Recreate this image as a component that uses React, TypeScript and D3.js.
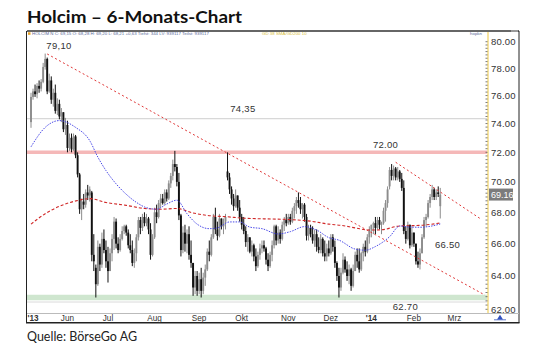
import React from 'react';
import * as d3 from 'd3';

const W = 540;
const H = 356;

// Daily OHLC (trading-day index 0 = first bar, early May 2013)
const opens = [74.1,75.9,76.3,76.1,76.7,76.5,77.0,78.1,78.7,76.3,77.1,75.7,76.2,74.9,75.4,74.5,74.8,73.6,73.9,72.3,73.0,72.2,73.1,71.8,70.5,68.2,68.7,68.5,69.3,69.1,69.3,65.3,64.5,63.5,65.8,64.7,66.3,65.6,64.9,64.3,65.4,66.3,67.4,66.0,65.6,66.3,66.8,67.1,66.7,65.9,65.6,64.8,65.4,66.4,67.5,67.0,67.7,67.3,67.6,66.9,65.3,66.4,68.0,67.7,68.6,68.9,68.6,69.3,68.9,69.9,70.4,71.2,71.0,70.0,67.8,65.6,66.7,66.0,66.6,65.3,64.8,63.3,64.0,63.1,63.8,63.1,63.9,64.4,65.5,65.3,66.4,67.7,66.9,66.5,67.6,67.1,67.4,70.7,70.3,69.5,68.9,68.4,69.1,68.3,67.7,67.2,66.8,66.1,66.4,65.5,65.9,65.2,64.6,65.3,65.7,65.9,65.7,65.0,64.6,65.3,65.9,67.1,66.2,66.7,66.3,67.2,67.5,67.3,67.7,67.4,68.1,68.4,68.8,68.6,68.2,68.5,67.7,66.5,67.0,66.6,66.2,66.6,65.8,65.6,66.3,65.4,65.2,65.7,65.4,66.4,65.8,64.8,64.0,63.3,64.2,65.0,64.4,64.0,64.4,63.4,64.3,65.3,64.9,64.4,65.4,65.8,65.5,66.4,66.9,67.2,67.3,67.0,67.5,67.2,67.3,68.1,68.6,69.7,70.8,70.4,70.9,70.3,70.7,70.2,69.6,66.8,66.3,67.2,65.9,66.7,66.0,64.9,64.7,65.4,66.4,67.5,67.7,68.6,69.0,69.5,69.0,69.3,68.4];
const highs = [76.2,76.5,76.8,76.9,77.1,77.2,78.4,79.1,78.8,77.6,77.4,76.5,76.8,75.8,75.7,75.1,74.8,74.4,74.2,73.3,73.3,73.3,73.2,72.0,70.6,68.9,69.2,69.5,69.8,69.7,69.4,66.6,64.7,66.2,66.0,66.7,66.9,66.2,65.8,65.7,66.6,67.7,67.6,66.4,66.6,67.1,67.2,67.2,66.9,66.6,66.2,65.7,66.6,67.7,67.7,67.9,68.0,67.9,67.7,67.3,66.6,68.3,68.5,68.8,69.2,69.2,69.5,69.5,70.1,70.6,71.5,72.1,71.2,70.6,67.9,67.1,67.2,66.9,67.1,66.2,64.8,64.3,64.3,64.2,64.5,64.2,64.7,65.7,66.2,66.6,67.9,68.3,67.4,67.9,67.6,67.6,67.9,72.0,70.6,69.7,69.2,69.5,69.1,68.8,67.9,67.7,67.1,66.6,66.4,66.2,66.0,65.7,65.5,66.0,66.2,66.2,65.8,65.4,65.5,66.2,67.2,67.2,67.1,66.9,67.4,67.7,67.9,67.9,67.9,68.3,68.6,69.0,69.3,69.0,68.6,68.6,67.9,67.2,67.2,67.1,66.9,66.9,66.4,66.6,66.4,66.2,66.0,66.2,66.6,66.6,66.2,64.9,64.5,64.5,65.4,65.2,64.9,64.7,64.5,64.7,65.5,65.7,65.7,65.5,66.0,66.2,66.6,67.1,67.2,67.4,67.7,67.7,67.7,67.4,68.3,68.8,69.7,71.0,71.2,71.1,71.0,71.0,70.8,70.6,70.1,67.1,67.4,67.2,67.1,66.7,66.0,65.5,65.7,66.6,67.7,67.9,68.8,69.2,69.8,69.6,69.5,69.7,69.6];
const lows = [73.7,75.7,75.9,75.8,76.2,76.3,76.9,77.9,76.1,76.2,75.4,75.2,74.7,74.6,74.3,74.1,73.4,73.2,72.0,72.1,72.0,72.1,71.6,70.3,67.9,67.5,68.2,68.3,68.8,68.7,64.9,64.3,62.7,63.4,64.3,64.5,65.4,64.5,63.6,64.3,64.9,65.6,65.7,65.4,65.5,66.2,66.6,66.5,65.7,65.4,64.6,64.5,64.9,66.2,66.6,66.8,67.1,67.1,66.6,65.0,65.2,66.3,67.3,67.6,68.3,68.5,68.5,68.7,68.8,69.6,70.1,70.7,69.7,67.5,65.2,65.4,65.5,65.4,65.0,64.5,62.8,62.9,62.8,62.9,62.7,62.9,63.4,64.3,64.9,65.2,66.3,66.6,66.2,66.4,66.9,66.6,66.9,70.1,69.2,68.5,68.1,68.3,68.1,67.4,66.9,66.6,65.8,65.5,65.4,65.2,64.9,64.3,64.5,65.0,65.4,65.5,64.7,64.3,64.5,64.9,65.7,65.9,66.0,66.0,66.2,66.8,67.1,67.2,67.2,67.3,67.6,67.9,68.3,67.9,67.6,67.4,66.2,66.2,66.4,66.0,65.8,65.5,65.4,65.4,65.2,64.9,64.9,65.2,65.3,65.5,64.5,63.7,62.7,63.1,64.1,64.2,63.7,63.5,63.1,63.3,64.3,64.5,64.2,64.3,64.9,65.2,65.4,66.0,66.4,66.6,66.6,66.9,66.9,66.6,67.2,67.4,68.3,69.5,70.1,70.1,70.1,70.1,70.0,69.4,66.6,66.0,66.2,65.7,65.8,65.8,64.7,64.5,64.4,65.4,66.3,67.1,67.6,68.3,68.8,68.8,68.8,69.0,67.6];
const closes = [75.9,76.3,76.1,76.7,76.5,77.0,78.1,78.7,76.3,77.1,75.7,76.2,74.9,75.4,74.5,74.8,73.6,73.9,72.3,73.0,72.2,73.1,71.8,70.5,68.2,68.7,68.5,69.3,69.1,69.5,65.3,64.9,63.5,65.8,64.7,66.3,65.6,64.9,64.3,65.4,66.3,67.4,66.0,65.6,66.3,66.8,67.1,66.7,65.9,65.6,64.8,65.4,66.4,67.5,67.0,67.7,67.3,67.6,66.9,65.3,66.4,68.0,67.7,68.6,68.9,68.6,69.3,68.9,69.9,70.4,71.2,71.0,70.0,67.8,65.6,66.7,66.0,66.6,65.3,64.8,63.3,64.0,63.1,63.8,63.1,63.9,64.4,65.5,65.3,66.4,67.7,66.9,66.5,67.6,67.1,67.4,67.7,70.3,69.5,68.9,68.4,69.1,68.3,67.7,67.2,66.8,66.1,66.4,65.5,65.9,65.2,64.6,65.3,65.7,65.9,65.7,65.0,64.6,65.3,65.9,67.1,66.2,66.7,66.3,67.2,67.5,67.3,67.7,67.4,68.1,68.4,68.8,68.6,68.2,68.5,67.7,66.5,67.0,66.6,66.2,66.6,65.8,65.6,66.3,65.4,65.2,65.7,65.4,66.4,65.8,64.8,64.0,63.3,64.2,65.0,64.4,64.0,64.4,63.4,64.3,65.3,64.9,64.4,65.4,65.8,65.5,66.4,66.9,67.2,67.3,67.0,67.5,67.2,67.3,68.1,68.6,69.5,70.8,70.4,70.9,70.3,70.7,70.2,69.6,66.8,66.3,67.2,65.9,66.7,66.0,64.9,64.7,65.4,66.4,67.5,67.7,68.6,69.0,69.5,69.0,69.3,69.2,69.16];

// Axis labels
const monthLabels = ["'13", 'Jun', 'Jul', 'Aug', 'Sep', 'Okt', 'Nov', 'Dez', "'14", 'Feb', 'Mrz'];
const monthIdx = [0, 18, 38, 61, 83, 104, 127, 148, 168, 189, 209];
const yTicks = [62, 64, 66, 68, 70, 72, 74, 76, 78, 80];

// Moving averages
const maShortIdx = [0, 7, 14, 22, 29, 33, 37, 42, 47, 52, 57, 62, 67, 72, 77, 82, 88, 92, 98, 103, 108, 114, 122, 128, 135, 141, 147, 152, 160, 165, 170, 177, 182, 187, 192, 197, 202];
const maShortVal = [72.38, 73.73, 74.21, 73.73, 72.8, 71.67, 70.76, 69.87, 69.18, 68.65, 68.3, 68.2, 68.54, 68.79, 67.91, 67.24, 66.95, 67.0, 67.38, 67.38, 67.05, 66.95, 66.61, 66.76, 67.08, 66.86, 66.38, 66.22, 65.66, 65.59, 65.82, 66.44, 67.12, 67.05, 67.04, 67.1, 67.25];
const maLongIdx = [0, 7, 14, 22, 29, 37, 47, 56, 64, 72, 80, 89, 96, 105, 115, 124, 131, 138, 147, 153, 160, 167, 173, 182, 192, 202];
const maLongVal = [67.24, 67.91, 68.39, 68.74, 68.89, 68.64, 68.45, 68.25, 68.2, 68.25, 67.96, 67.77, 67.72, 67.62, 67.58, 67.55, 67.51, 67.43, 67.24, 67.16, 67.0, 66.86, 66.88, 67.12, 67.16, 67.31];

// Trend lines
const trendMainIdx = [8, 224];
const trendMainVal = [79.07, 62.85];
const trendUpperIdx = [180, 222];
const trendUpperVal = [71.32, 67.57];

// Horizontal levels
const resistanceLevel = 72.0;
const markLevel = 74.35;
const supportLevel = 62.7;

// Annotations
const annoTexts = ['79,10', '74,35', '72.00', '66.50', '62.70'];
const annoIdx = [13.8, 104.6, 175, 205.6, 184.8];
const annoVal = [79.48, 74.85, 72.33, 65.7, 61.93];

const lastPrice = 69.16;

const PL = 27, PR = 487, PT = 32, PB = 313;

export default function App() {
  const x = d3.scaleLinear().domain([0, 202]).range([31, 31 + 202 * 2.026]);
  const y = d3.scaleLog().domain([62, 80]).range([309.3, 41.7]);

  const lineGen = d3.line<[number, number]>()
    .x(d => x(d[0]))
    .y(d => y(d[1]))
    .curve(d3.curveMonotoneX);
  const straight = d3.line<[number, number]>().x(d => x(d[0])).y(d => y(d[1]));

  const maShort = lineGen(maShortIdx.map((d, i) => [d, maShortVal[i]] as [number, number])) || '';
  const maLong = lineGen(maLongIdx.map((d, i) => [d, maLongVal[i]] as [number, number])) || '';
  const tMain = straight(trendMainIdx.map((d, i) => [d, trendMainVal[i]] as [number, number])) || '';
  const tUp = straight(trendUpperIdx.map((d, i) => [d, trendUpperVal[i]] as [number, number])) || '';

  const minorTicks = d3.range(62, 80.01, 0.25);
  const axisFont = '"Liberation Sans", Arial, sans-serif';

  return (
    <svg width={W} height={H} style={{ position: 'absolute', left: 0, top: 0, background: '#fff' }}>
      <defs>
        <clipPath id="plotClip">
          <rect x={PL} y={PT} width={PR - PL} height={PB - PT} />
        </clipPath>
      </defs>
      <rect x={0} y={0} width={W} height={H} fill="#fff" />

      {/* Title */}
      <text x={27} y={23} fontFamily="Lato, 'Open Sans', sans-serif" fontWeight={700} fontSize={17.5}
        textLength={215} lengthAdjust="spacingAndGlyphs" fill="#111">Holcim – 6-Monats-Chart</text>

      {/* Header bar */}
      <line x1={PL} x2={519} y1={31} y2={31} stroke="#333" strokeWidth={1.6} />
      <rect x={28} y={32.3} width={2.5} height={2.5} fill="#e8a020" />
      <text x={32} y={35.3} fontSize={4.4} fontFamily={axisFont} fill="#5a6a9a">
        HOLCIM N C: 69,15 O: 68,28 H: 69,20 L: 68,21 +0,63 Tiefst: 344 LV: 939117 Teilst: 939117
      </text>
      <text x={262} y={35.3} fontSize={4.4} fontFamily={axisFont} fill="#d8c040">GD 38 SMA/GD200 10</text>
      <text x={470} y={35.3} fontSize={4.4} fontFamily={axisFont} fill="#5a6a9a">hopkn</text>
      <rect x={511} y={30} width={7} height={2} fill="#999" />

      {/* Frame */}
      <line x1={26.5} x2={26.5} y1={31} y2={323} stroke="#222" strokeWidth={1} />
      <line x1={519} x2={519} y1={31} y2={323} stroke="#222" strokeWidth={1} />
      <line x1={26} x2={519.5} y1={322.8} y2={322.8} stroke="#222" strokeWidth={1.5} />
      <line x1={27} x2={519} y1={313.5} y2={313.5} stroke="#bbb" strokeWidth={1} />

      <g clipPath="url(#plotClip)">
        {/* Levels */}
        <line x1={PL} x2={PR} y1={y(markLevel)} y2={y(markLevel)} stroke="#d8d8d8" strokeWidth={1.4} />
        <line x1={PL} x2={PR} y1={y(resistanceLevel)} y2={y(resistanceLevel)} stroke="#f5b8b8" strokeWidth={3.5} />
        <line x1={PL} x2={PR} y1={y(supportLevel)} y2={y(supportLevel)} stroke="#cfe6cf" strokeWidth={5.5} />
        <line x1={PL} x2={PR} y1={y(supportLevel) + 4.5} y2={y(supportLevel) + 4.5} stroke="#d0d0d0" strokeWidth={0.8} />

        {/* Candles */}
        {closes.map((c, i) => {
          const o = opens[i];
          const up = c >= o;
          const col = up ? '#8c8c8c' : '#111';
          const cx = x(i);
          const top = y(Math.max(o, c));
          const bh = Math.max(0.9, Math.abs(y(o) - y(c)));
          return (
            <g key={i}>
              <line x1={cx} x2={cx} y1={y(highs[i])} y2={y(lows[i])} stroke={col} strokeWidth={1} />
              <rect x={cx - 0.95} y={top} width={1.9} height={bh} fill={col} />
            </g>
          );
        })}

        {/* Moving averages */}
        <path d={maLong} fill="none" stroke="#d02828" strokeWidth={1.1} strokeDasharray="3,2" />
        <path d={maShort} fill="none" stroke="#4a4ae8" strokeWidth={1} strokeDasharray="1.5,1.2" />

        {/* Trend lines */}
        <path d={tMain} fill="none" stroke="#e03838" strokeWidth={1} strokeDasharray="2,2.5" />
        <path d={tUp} fill="none" stroke="#e03838" strokeWidth={1} strokeDasharray="2,2.5" />
      </g>

      {/* Annotations */}
      {annoTexts.map((t, i) => (
        <text key={t} x={x(annoIdx[i])} y={y(annoVal[i])} textAnchor="middle" fontSize={9.5}
          fontFamily={axisFont} fill="#333" letterSpacing={0.3}>{t}</text>
      ))}

      {/* Right axis */}
      <line x1={488} x2={488} y1={32} y2={313} stroke="#f0d060" strokeWidth={1.2} />
      {minorTicks.map((v, i) => (
        <line key={i} x1={485.5} x2={487.5} y1={y(v)} y2={y(v)} stroke="#444" strokeWidth={0.7} />
      ))}
      {yTicks.map(v => (
        <text key={v} x={491} y={y(v) + 3.4} fontSize={9.5} fontFamily={axisFont} fill="#333"
          letterSpacing={0.2}>{v.toFixed(2)}</text>
      ))}
      <rect x={489} y={y(lastPrice) - 6} width={24} height={12} fill="#7c7c7c" />
      <text x={491} y={y(lastPrice) + 3.3} fontSize={9} fontFamily={axisFont} fill="#fff">{lastPrice.toFixed(2)}</text>

      {/* Bottom axis */}
      {monthLabels.map((m, i) => {
        const px = Math.max(x(monthIdx[i]), 33);
        const isYear = m.startsWith("'");
        return (
          <text key={m} x={px} y={320.5} textAnchor="middle" fontSize={8.2} fontFamily={axisFont}
            fontWeight={isYear ? 700 : 400} fill="#333">{m}</text>
        );
      })}
      <path d="M500,314.8 L503,319.5 L497,319.5 Z" fill="#3050c0" />
      <line x1={494} x2={506} y1={319.8} y2={319.8} stroke="#3050c0" strokeWidth={0.8} />

      {/* Source */}
      <text x={27} y={341} fontFamily="Lato, 'Open Sans', sans-serif" fontSize={13.5}
        textLength={110} lengthAdjust="spacingAndGlyphs" fill="#222">Quelle: BörseGo AG</text>
    </svg>
  );
}
